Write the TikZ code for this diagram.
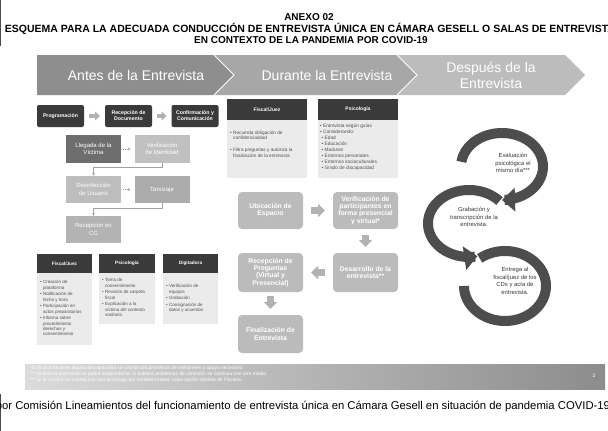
\documentclass[tikz,border=0pt]{standalone}
\usepackage{fontspec}
\setmainfont{Liberation Sans}
\usetikzlibrary{arrows.meta,calc}
\definecolor{hdark}{HTML}{3A3A3A}
\definecolor{bodyg}{HTML}{EBEBEB}
\definecolor{listtxt}{HTML}{505050}
\definecolor{flowg}{HTML}{BBBBBB}
\definecolor{arrg}{HTML}{B2B2B2}
\definecolor{ringg}{HTML}{4D4D4D}
\definecolor{chA}{HTML}{8E8E8E}
\definecolor{chB}{HTML}{A7A7A7}
\definecolor{chC}{HTML}{BCBCBC}
\definecolor{lleggray}{HTML}{6E6E6E}
\definecolor{verigray}{HTML}{C0C0C0}
\definecolor{desgray}{HTML}{BDBDBD}
\definecolor{tamgray}{HTML}{ABABAB}
\definecolor{cggray}{HTML}{B3B3B3}
\definecolor{thingray}{HTML}{A0A0A0}
\newcommand\itm{\makebox[3.2pt][l]{\textbullet}}
\newcommand\cnt{\hspace*{3.2pt}}
\begin{document}
\begin{tikzpicture}[x=1pt,y=-1pt,
  every node/.style={inner sep=0pt, outer sep=0pt},
  topbox/.style={fill=hdark, rounded corners=2pt, minimum width=47pt, minimum height=22pt, text=white, font=\bfseries\fontsize{5.2}{6.2}\selectfont, align=center},
  leftbox/.style={fill=#1, minimum width=55pt, minimum height=27.5pt, text=white, font=\fontsize{6}{7.5}\selectfont, align=center},
  rolehead/.style={fill=hdark, text=white, font=\bfseries\fontsize{4.7}{5.6}\selectfont},
  rolebody/.style={fill=bodyg},
  listtext/.style={anchor=north west, text=listtxt, align=left, font=\fontsize{4.5}{5.3}\selectfont},
  flowbox/.style={fill=flowg, rounded corners=4pt, minimum width=65pt, text=white, font=\bfseries\fontsize{6.8}{7.3}\selectfont, align=center},
  smallfat/.style={draw=arrg, line width=4pt, -{Triangle[width=9pt,length=5pt]}},
  bigfat/.style={draw=arrg, line width=6.5pt, -{Triangle[width=13pt,length=7pt]}},
  thinarr/.style={draw=thingray, line width=0.5pt, -{Stealth[length=2.5pt,width=2.5pt]}},
  ring/.style={draw=ringg, line width=10pt},
  ringtip/.style={-{Triangle[width=23pt,length=13pt]}},
  ringtext/.style={text=black!78, align=center, font=\fontsize{5.9}{7.6}\selectfont},
  headtext/.style={text=white, align=center, font=\fontsize{14}{16}\selectfont}
]
\useasboundingbox (0,0) rectangle (608,431);
\clip (0,0) rectangle (608,431);
\fill[white] (0,0) rectangle (608,431);
\draw[black!70, line width=1.2pt] (0.6,0) -- (0.6,46);
\draw[black!70, line width=1.2pt] (0.6,394) -- (0.6,431);

% title
\node[font=\bfseries\fontsize{10}{12}\selectfont] (t1) at (309,17) {ANEXO 02};
\node[font=\bfseries\fontsize{10.5}{12}\selectfont] (t2) at (310,28.5) {ESQUEMA PARA LA ADECUADA CONDUCCIÓN DE ENTREVISTA ÚNICA EN CÁMARA GESELL O SALAS DE ENTREVISTA};
\node[font=\bfseries\fontsize{10}{12}\selectfont] (t3) at (311,40) {EN CONTEXTO DE LA PANDEMIA POR COVID-19};

% header chevrons
\fill[chA] (37,55) -- (214,55) -- (234,75) -- (214,95) -- (37,95) -- cycle;
\fill[chB] (214,55) -- (397,55) -- (417,75) -- (397,95) -- (214,95) -- (234,75) -- cycle;
\fill[chC] (397,55) -- (565,55) -- (585,75) -- (565,95) -- (397,95) -- (417,75) -- cycle;
\draw[white, line width=0.8pt] (214,55) -- (234,75) -- (214,95);
\draw[white, line width=0.8pt] (397,55) -- (417,75) -- (397,95);
\node[headtext] (antes) at (136,75) {Antes de la Entrevista};
\node[headtext] (durante) at (327,75) {Durante la Entrevista};
\node[headtext] (despues) at (491,75) {Después de la\\Entrevista};

% top row
\node[topbox] (prog) at (60.5,116) {Programación};
\node[topbox] (recdoc) at (128.5,116) {Recepción de\\Documento};
\node[topbox] (conf) at (195,116) {Confirmación y\\Comunicación};
\draw[smallfat] ($(prog.east)+(5,0)$) -- ($(recdoc.west)+(-5,0)$);
\draw[smallfat] ($(recdoc.east)+(5,0)$) -- ($(conf.west)+(-5,0)$);

% left column flow
\node[leftbox=lleggray] (lleg) at (93.5,149) {Llegada de la\\Víctima};
\node[leftbox=verigray] (verid) at (162,149) {Verificación\\de Identidad};
\node[leftbox=desgray] (desinf) at (93.5,189.5) {Desinfección\\de Usuario};
\node[leftbox=tamgray] (tamiz) at (162,189.5) {Tamizaje};
\node[leftbox=cggray] (reccg) at (93.5,229.5) {Recepción en\\CG};
\draw[thinarr, dash pattern=on 1pt off 0.8pt] ($(lleg.east)+(2,0)$) -- ($(verid.west)+(-4,0)$);
\draw[thinarr, dash pattern=on 1pt off 0.8pt] ($(desinf.east)+(2,0)$) -- ($(tamiz.west)+(-4,0)$);
\draw[thinarr] (verid.south) -- ++(0,4) -| (desinf.north);
\draw[thinarr] (tamiz.south) -- ++(0,5) -| (reccg.north);

% left role boxes
\node[rolebody, minimum width=55pt, minimum height=72pt] (fj1b) at (64.5,309) {};
\node[rolehead, minimum width=55pt, minimum height=19pt] (fj1h) at (64.5,263.5) {Fiscal/Juez};
\node[listtext] (fj1t) at ($(fj1b.north west)+(3,7.5)$) {\itm Creación de\\\cnt plataforma\\[1.4pt]\itm Notificación de\\\cnt fecha y hora\\[1.4pt]\itm Participación en\\\cnt actos preparatorios\\[1.4pt]\itm Informa sobre\\\cnt procedimiento\\\cnt derechos y\\\cnt consentimiento};

\node[rolebody, minimum width=56pt, minimum height=51pt] (ps1b) at (127,298.5) {};
\node[rolehead, minimum width=56pt, minimum height=19pt] (ps1h) at (127,263.5) {Psicología};
\node[listtext] (ps1t) at ($(ps1b.north west)+(3,5.5)$) {\itm Toma de\\\cnt consentimiento\\[1.4pt]\itm Revisión de carpeta\\\cnt fiscal\\[1.4pt]\itm Explicación a la\\\cnt víctima del contexto\\\cnt sanitario};

\node[rolebody, minimum width=55pt, minimum height=51pt] (dg1b) at (190.5,298.5) {};
\node[rolehead, minimum width=55pt, minimum height=19pt] (dg1h) at (190.5,263.5) {Digitadora};
\node[listtext] (dg1t) at ($(dg1b.north west)+(3,11.5)$) {\itm Verificación de\\\cnt equipos\\[1.4pt]\itm Grabación\\[1.4pt]\itm Consignación de\\\cnt datos y acuerdos};

% middle role boxes
\node[rolebody, minimum width=80pt, minimum height=58pt] (fj2b) at (267,149) {};
\node[rolehead, minimum width=80pt, minimum height=21pt, font=\bfseries\fontsize{5}{6}\selectfont] (fj2h) at (267,109.5) {Fiscal/Juez};
\node[listtext, font=\fontsize{4.7}{5.4}\selectfont] (fj2t) at ($(fj2b.north west)+(3,11)$) {\itm Recuerda obligación de\\\cnt confidencialidad\\[6.5pt]\itm Filtra preguntas y autoriza la\\\cnt finalización de la entrevista};

\node[rolebody, minimum width=80pt, minimum height=58pt] (ps2b) at (358,149) {};
\node[rolehead, minimum width=80pt, minimum height=21pt, font=\bfseries\fontsize{5}{6}\selectfont] (ps2h) at (358,109.5) {Psicología};
\node[listtext, font=\fontsize{4.8}{6.1}\selectfont] (ps2t) at ($(ps2b.north west)+(2,3.5)$) {\itm Entrevista según guías\\\itm Considerando:\\\hspace*{1.5pt}\itm Edad\\\hspace*{1.5pt}\itm Educación\\\hspace*{1.5pt}\itm Madurez\\\hspace*{1.5pt}\itm Entornos personales\\\hspace*{1.5pt}\itm Entornos socioculturales\\\hspace*{1.5pt}\itm Grado de discapacidad};

% middle flow
\node[flowbox, minimum height=37pt] (ubic) at (270.5,210.5) {Ubicación de\\Espacio};
\node[flowbox, minimum height=37pt] (verpart) at (365.5,210.5) {Verificación de\\participantes en\\forma presencial\\y virtual*};
\node[flowbox, minimum height=39pt] (desarr) at (365.5,272.5) {Desarrollo de la\\entrevista**};
\node[flowbox, minimum height=39pt] (recpreg) at (270.5,272.5) {Recepción de\\Preguntas\\(Virtual y\\Presencial)};
\node[flowbox, minimum height=38pt] (final) at (270.5,334) {Finalización de\\Entrevista};
\draw[bigfat] ($(ubic.east)+(8,0)$) -- ($(verpart.west)+(-8,0)$);
\draw[bigfat] ($(verpart.south)+(0,6)$) -- ($(desarr.north)+(0,-6)$);
\draw[bigfat] ($(desarr.west)+(-8,0)$) -- ($(recpreg.east)+(8,0)$);
\draw[bigfat] ($(recpreg.south)+(0,4)$) -- ($(final.north)+(0,-6)$);

% circular arrows
\draw[ring] plot[domain=232:540, samples=70] ({505+41*cos(\x)},{286+35*sin(\x)});
\draw[ring, ringtip] plot[domain=0:1, samples=70] ({469+41*cos(318-240*\x)},{223.5+33.5*sin(318-240*\x)});
\draw[ring, ringtip] plot[domain=188:450, samples=70] ({502+41*cos(\x)},{166.5+33.5*sin(\x)});
\node[ringtext] (evtxt) at (513,163) {Evaluación\\psicológica el\\mismo día***};
\node[ringtext] (grtxt) at (474,217) {Grabación y\\transcripción de la\\entrevista.};
\node[ringtext] (entxt) at (515,281) {Entrega al\\fiscal/juez de los\\CDs y acta de\\entrevista.};

% footnote bar
\shade[left color=black!14, right color=black!45] (25,364) rectangle (605,389);
\node[anchor=north west, align=left, text=white, font=\fontsize{4.9}{6}\selectfont] (notes) at (30,366) {*Si la víctima tiene alguna discapacidad se coordinará presencia de intérpretes y apoyo necesario.\\** Iniciada la entrevista no podrá suspenderse, si hubiera problemas de conexión se continúa con otro medio.\\*** Si la víctima no cuenta con una psicóloga por entidad estatal, salvo opción distinta de Fiscalía.};
\node[text=white, font=\fontsize{5}{6}\selectfont] (pnum) at (594,376) {2};

% caption
\node[anchor=west, font=\fontsize{11.3}{13}\selectfont] (cap) at (-4.2,407) {por Comisión Lineamientos del funcionamiento de entrevista única en Cámara Gesell en situación de pandemia COVID-19};
\end{tikzpicture}
\end{document}
